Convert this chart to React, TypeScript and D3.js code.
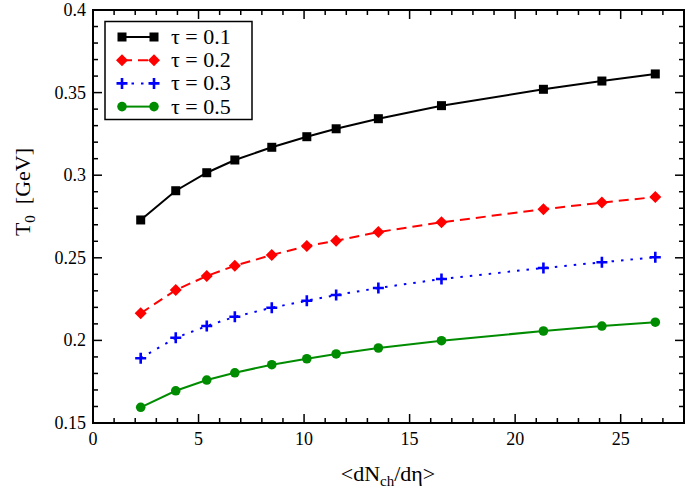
import React from "react";
import * as d3 from "d3";

const xs = [2.26, 3.92, 5.39, 6.72, 8.47, 10.13, 11.52, 13.52, 16.51, 21.34, 24.11, 26.64];
const tau01 = [0.2729, 0.2906, 0.3015, 0.3092, 0.3169, 0.3233, 0.3281, 0.3342, 0.3421, 0.352, 0.357, 0.3613];
const tau02 = [0.2164, 0.2305, 0.239, 0.2452, 0.2517, 0.2571, 0.2603, 0.2656, 0.2715, 0.2794, 0.2834, 0.2868];
const tau03 = [0.1892, 0.2016, 0.2087, 0.2143, 0.2198, 0.224, 0.2275, 0.2317, 0.2372, 0.2438, 0.2473, 0.2503];
const tau05 = [0.1595, 0.1695, 0.176, 0.1804, 0.1853, 0.1889, 0.1918, 0.1954, 0.1998, 0.2057, 0.2087, 0.211];
const legendLabels = ["τ = 0.1", "τ = 0.2", "τ = 0.3", "τ = 0.5"];
const xTicks = [0, 5, 10, 15, 20, 25];
const yTicks = [0.15, 0.2, 0.25, 0.3, 0.35, 0.4];
const yTickLabels = ["0.15", "0.2", "0.25", "0.3", "0.35", "0.4"];

const L = 93, R = 684, T = 10, B = 423;
const font = "Liberation Serif, Times New Roman, Times, serif";

type Series = { values: number[]; color: string; dash: string | null; marker: string };
const series: Series[] = [
  { values: tau01, color: "#000000", dash: null, marker: "square" },
  { values: tau02, color: "#ff0000", dash: "10,6", marker: "diamond" },
  { values: tau03, color: "#0000ff", dash: "2.5,7", marker: "plus" },
  { values: tau05, color: "#008c00", dash: null, marker: "circle" },
];

function Marker({ kind, x, y, color }: { kind: string; x: number; y: number; color: string }) {
  if (kind === "square") return <rect x={x - 4.5} y={y - 4.5} width={9} height={9} fill={color} />;
  if (kind === "diamond")
    return <path d={`M${x},${y - 6}L${x + 6},${y}L${x},${y + 6}L${x - 6},${y}Z`} fill={color} />;
  if (kind === "plus")
    return <path d={`M${x - 5.5},${y}H${x + 5.5}M${x},${y - 5.5}V${y + 5.5}`} stroke={color} strokeWidth={2.6} />;
  return <circle cx={x} cy={y} r={4.8} fill={color} />;
}

export default function App() {
  const x = d3.scaleLinear().domain([0, 28]).range([L, R]);
  const y = d3.scaleLinear().domain([0.15, 0.4]).range([B, T]);
  const line = d3.line<number>().x((_, i) => x(xs[i])).y((d) => y(d));

  const xMinor = d3.range(0, 29, 1);
  const yMinor = d3.range(0, 26).map((i) => 0.15 + i * 0.01);

  return (
    <svg width={685} height={496} style={{ position: "absolute", left: 0, top: 0 }}>
      <rect width={685} height={496} fill="#fff" />
      <g stroke="#000" strokeWidth={1.5}>
        {xMinor.map((v) => {
          const major = v % 5 === 0;
          const len = major ? 9 : 5;
          return (
            <g key={"x" + v}>
              <line x1={x(v)} x2={x(v)} y1={B} y2={B - len} />
              <line x1={x(v)} x2={x(v)} y1={T} y2={T + len} />
            </g>
          );
        })}
        {yMinor.map((v, i) => {
          const major = i % 5 === 0;
          const len = major ? 9 : 5;
          return (
            <g key={"y" + i}>
              <line x1={L} x2={L + len} y1={y(v)} y2={y(v)} />
              <line x1={R} x2={R - len} y1={y(v)} y2={y(v)} />
            </g>
          );
        })}
      </g>
      {series.map((s, si) => (
        <g key={si}>
          <path d={line(s.values) || ""} fill="none" stroke={s.color} strokeWidth={2}
            strokeDasharray={s.dash || undefined} />
          {s.values.map((v, i) => (
            <Marker key={i} kind={s.marker} x={x(xs[i])} y={y(v)} color={s.color} />
          ))}
        </g>
      ))}
      <rect x={L} y={T} width={R - L} height={B - T} fill="none" stroke="#000" strokeWidth={2} />
      <g fontFamily={font} fontSize={18} fill="#000">
        {xTicks.map((v) => (
          <text key={v} x={x(v)} y={445} textAnchor="middle">{v}</text>
        ))}
        {yTicks.map((v, i) => (
          <text key={v} x={86} y={y(v) + 6} textAnchor="end">{yTickLabels[i]}</text>
        ))}
      </g>
      <text x={388} y={481} textAnchor="middle" fontFamily={font} fontSize={22}>
        &lt;dN<tspan fontSize={15} dy={5}>ch</tspan><tspan dy={-5}>/dη&gt;</tspan>
      </text>
      <text transform="translate(30,192) rotate(-90)" textAnchor="middle" fontFamily={font} fontSize={22}>
        T<tspan fontSize={15} dy={5}>0</tspan><tspan dy={-5}>{"\u00a0\u00a0[GeV]"}</tspan>
      </text>
      <rect x={105} y={21.5} width={147} height={98} fill="#fff" stroke="#000" strokeWidth={1.5} />
      {series.map((s, i) => {
        const ly = 37 + i * 23.2;
        return (
          <g key={"lg" + i}>
            <line x1={122} x2={154} y1={ly} y2={ly} stroke={s.color} strokeWidth={2}
              strokeDasharray={s.dash || undefined} />
            <Marker kind={s.marker} x={122} y={ly} color={s.color} />
            <Marker kind={s.marker} x={154} y={ly} color={s.color} />
            <text x={171} y={ly + 7} fontFamily={font} fontSize={22}>{legendLabels[i]}</text>
          </g>
        );
      })}
    </svg>
  );
}
